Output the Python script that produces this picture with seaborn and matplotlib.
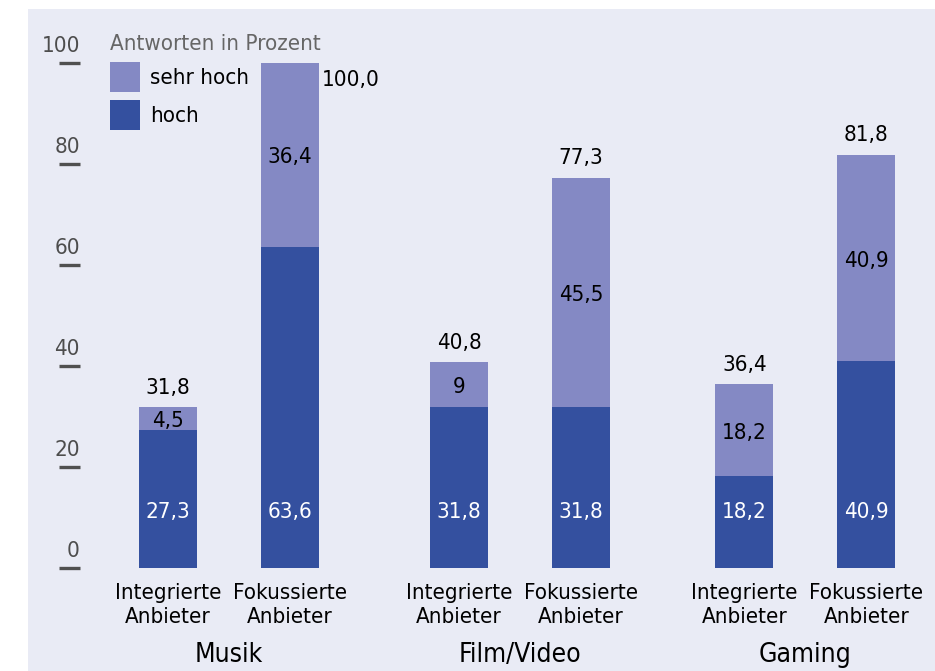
import matplotlib
matplotlib.use('Agg')
import matplotlib.pyplot as plt
from matplotlib.patches import Rectangle
import pandas as pd
import seaborn as sns

# Data
groups = ['Musik', 'Film/Video', 'Gaming']
anbieter = ['Integrierte\nAnbieter', 'Fokussierte\nAnbieter']
hoch = [27.3, 63.6, 31.8, 31.8, 18.2, 40.9]
sehr_hoch = [4.5, 36.4, 9.0, 45.5, 18.2, 40.9]
y_ticks = [0, 20, 40, 60, 80, 100]

dark = '#34509f'
light = '#8489c4'
bg = '#e9ebf5'

sns.set_style('white')
plt.rcParams['font.family'] = ['DejaVu Sans']
plt.rcParams['font.stretch'] = 'condensed'
plt.rcParams['text.color'] = 'black'
plt.rcParams['xtick.color'] = 'black'


def fmt(v, keep_decimal=True):
    if not keep_decimal and float(v).is_integer():
        return str(int(v))
    return f'{v:.1f}'.replace('.', ',')


# bar positions: two bars per group, groups spread apart
group_x = [0, 2.385, 4.725]
xs = [g + i for g in group_x for i in range(2)]
df = pd.DataFrame({
    'x': xs,
    'hoch': hoch,
    'sehr_hoch': sehr_hoch,
})
df['total'] = df['hoch'] + df['sehr_hoch']

fig = plt.figure(figsize=(9.35, 6.71), dpi=100)
fig.patches.append(Rectangle((28 / 935, 0), 1, 1 - 9 / 671, transform=fig.transFigure,
                             facecolor=bg, edgecolor='none', zorder=-10))
ax = fig.add_axes([80 / 935, 103 / 671, 1 - 80 / 935, 559 / 671])
ax.set_facecolor('none')

sns.barplot(data=df, x='x', y='total', native_scale=True, color=light, width=0.475,
            saturation=1, label='sehr hoch', linewidth=0, edgecolor='none', ax=ax)
sns.barplot(data=df, x='x', y='hoch', native_scale=True, color=dark, width=0.475,
            saturation=1, label='hoch', linewidth=0, edgecolor='none', ax=ax)

ax.set_xlim((80 - 168) / 122, (935 - 168) / 122)
ax.set_ylim(0, 110.7)
sns.despine(ax=ax, left=True, bottom=True)
ax.set_xlabel('')
ax.set_ylabel('')

fs = 16

# y ticks as dashes with labels above
ax.set_yticks(y_ticks)
ax.tick_params(axis='y', direction='out', length=15, width=2.4, color='#505050',
               labelleft=False, left=True)
for v in y_ticks:
    ax.annotate(str(v), xy=(0, v), xycoords=('axes fraction', 'data'),
                xytext=(0, 8), textcoords='offset points', ha='right', va='baseline',
                fontsize=fs, color='#4d4d4d')

ax.set_xticks(xs)
ax.set_xticklabels(anbieter * 3, fontsize=fs, linespacing=1.25)
ax.tick_params(axis='x', length=0, pad=11)

for g, name in zip(group_x, groups):
    ax.annotate(name, xy=(g + 0.5, 0), xycoords='data', xytext=(0, -63),
                textcoords='offset points', ha='center', va='center', fontsize=19)

# value labels
for i, row in df.iterrows():
    ax.text(row['x'], 11, fmt(row['hoch']), ha='center', va='center',
            color='white', fontsize=fs)
    mid = row['hoch'] + row['sehr_hoch'] / 2
    ax.text(row['x'], mid - 0.5, fmt(row['sehr_hoch'], keep_decimal=False),
            ha='center', va='center', color='black', fontsize=fs)
    if row['total'] >= 100:
        ax.annotate(fmt(row['total']), xy=(row['x'] + 0.475 / 2, row['total']),
                    xytext=(2, -5), textcoords='offset points', ha='left', va='top',
                    fontsize=fs)
    else:
        ax.annotate(fmt(row['total']), xy=(row['x'], row['total']),
                    xytext=(0, 14), textcoords='offset points', ha='center', va='center',
                    fontsize=fs)

leg = ax.legend(title='Antworten in Prozent', loc='upper left',
                bbox_to_anchor=(110 / 935, 1 - 34 / 671), bbox_transform=fig.transFigure,
                frameon=False, fontsize=fs, title_fontsize=fs, handlelength=1.35,
                handleheight=1.7, labelspacing=0.35, handletextpad=0.45,
                borderpad=0, borderaxespad=0, alignment='left')
leg.get_title().set_color('#666666')

fig.savefig('out.png', dpi=100, facecolor='white')
